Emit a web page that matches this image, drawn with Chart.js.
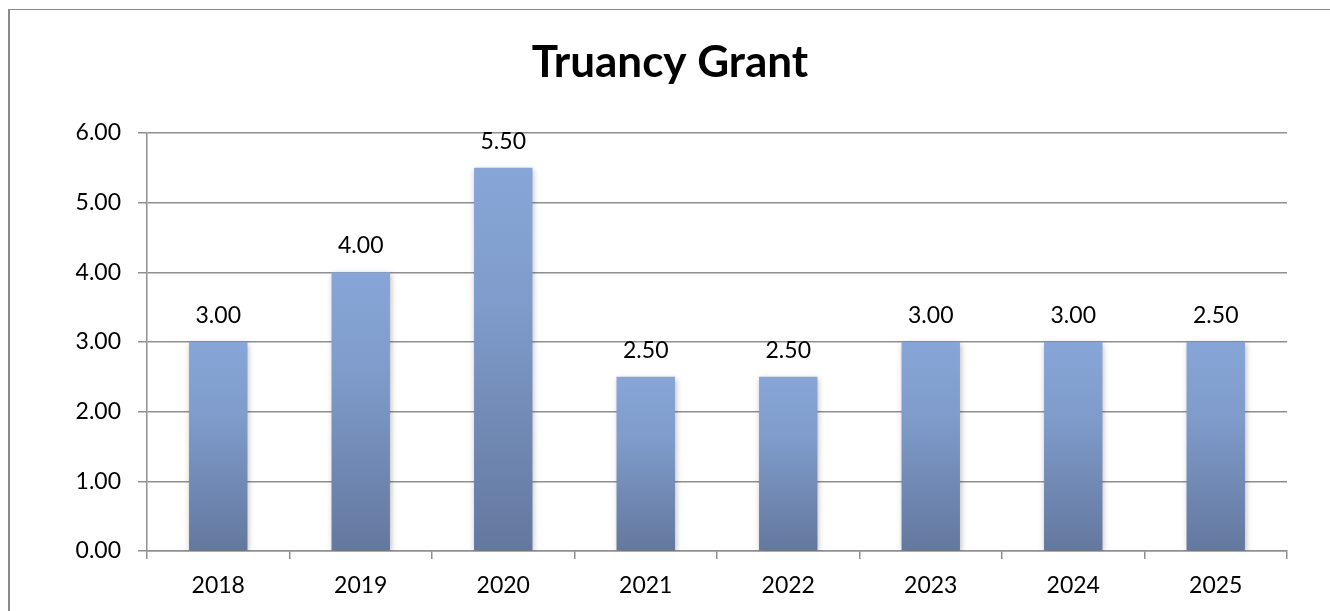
<!DOCTYPE html>
<html>
<head>
<meta charset="utf-8">
<script src="https://cdn.jsdelivr.net/npm/chart.js@4/dist/chart.umd.min.js"></script>
<style>
  html, body { margin: 0; padding: 0; background: #fff; }
  #wrap { position: relative; width: 1330px; height: 611px; }
  #frame { position: absolute; left: 8px; top: 9px; width: 1330px; height: 620px;
           border-left: 2.5px solid #8a8a8a; border-top: 1.5px solid #8a8a8a; pointer-events: none; }
  canvas { position: absolute; left: 0; top: 0; }
</style>
</head>
<body>
<div id="wrap">
  <canvas id="c" width="1330" height="611"></canvas>
  <div id="frame"></div>
</div>
<script>
const categories = ['2018', '2019', '2020', '2021', '2022', '2023', '2024', '2025'];
const values = [3.0, 4.0, 5.5, 2.5, 2.5, 3.0, 3.0, 3.0];
const valueLabels = ['3.00', '4.00', '5.50', '2.50', '2.50', '3.00', '3.00', '2.50'];
const yTicks = [0, 1, 2, 3, 4, 5, 6];
const titleText = 'Truancy Grant';

const FONT = 'Lato, "Open Sans", sans-serif';

function barGradient(ctx) {
  const chart = ctx.chart;
  const area = chart.chartArea;
  if (!area || ctx.type !== 'data') return '#7d99c9';
  const ys = chart.scales.y;
  const top = ys.getPixelForValue(ctx.raw);
  const bottom = ys.getPixelForValue(0);
  if (!isFinite(top) || !isFinite(bottom) || top === bottom) return '#7d99c9';
  const g = chart.ctx.createLinearGradient(0, top, 0, bottom);
  g.addColorStop(0, '#87a5d7');
  g.addColorStop(0.35, '#7f9ccb');
  g.addColorStop(1, '#63789e');
  return g;
}

const shadowPlugin = {
  id: 'barShadow',
  beforeDatasetsDraw(chart) {
    const c = chart.ctx;
    c.save();
    c.shadowColor = 'rgba(0,0,0,0.28)';
    c.shadowBlur = 6;
    c.shadowOffsetX = 1;
    c.shadowOffsetY = 2;
  },
  afterDatasetsDraw(chart) {
    chart.ctx.restore();
  }
};

const labelPlugin = {
  id: 'valueLabels',
  afterDatasetsDraw(chart) {
    const c = chart.ctx;
    const meta = chart.getDatasetMeta(0);
    c.save();
    c.shadowColor = 'transparent';
    c.font = '23px ' + FONT;
    c.fillStyle = '#000';
    c.textAlign = 'center';
    c.textBaseline = 'alphabetic';
    meta.data.forEach((bar, i) => {
      c.fillText(valueLabels[i], bar.x, bar.y - 19);
    });
    c.restore();
  }
};

new Chart(document.getElementById('c'), {
  type: 'bar',
  data: {
    labels: categories,
    datasets: [{
      data: values,
      backgroundColor: barGradient,
      borderWidth: 0,
      barPercentage: 0.41,
      categoryPercentage: 1.0
    }]
  },
  options: {
    responsive: false,
    animation: false,
    devicePixelRatio: 1,
    layout: { padding: { left: 53, right: 43, top: 0, bottom: 0 } },
    plugins: {
      legend: { display: false },
      tooltip: { enabled: false },
      title: {
        display: true,
        text: titleText,
        color: '#000',
        font: { family: FONT, size: 44, weight: 'bold', lineHeight: 1.2 },
        padding: { top: 36, bottom: 44.2 }
      }
    },
    scales: {
      x: {
        offset: true,
        grid: { display: true, drawOnChartArea: false, drawTicks: true, tickLength: 8, offset: true, color: '#8f8f8f', lineWidth: 1.5 },
        border: { display: true, color: '#8f8f8f', width: 1.5 },
        ticks: { color: '#000', font: { family: FONT, size: 23 }, padding: 13, maxRotation: 0 },
        afterFit(s) { s.height = 60; }
      },
      y: {
        min: 0,
        max: 6,
        afterBuildTicks(s) { s.ticks = yTicks.map(v => ({ value: v })); },
        grid: { color: '#8f8f8f', lineWidth: 1.5, drawTicks: true, tickLength: 9 },
        border: { display: true, color: '#8f8f8f', width: 1.5 },
        ticks: { color: '#000', font: { family: FONT, size: 23 }, padding: 17,
                 callback: v => Number(v).toFixed(2) },
        afterFit(s) { s.width = 94; }
      }
    }
  },
  plugins: [shadowPlugin, labelPlugin]
});
</script>
</body>
</html>
